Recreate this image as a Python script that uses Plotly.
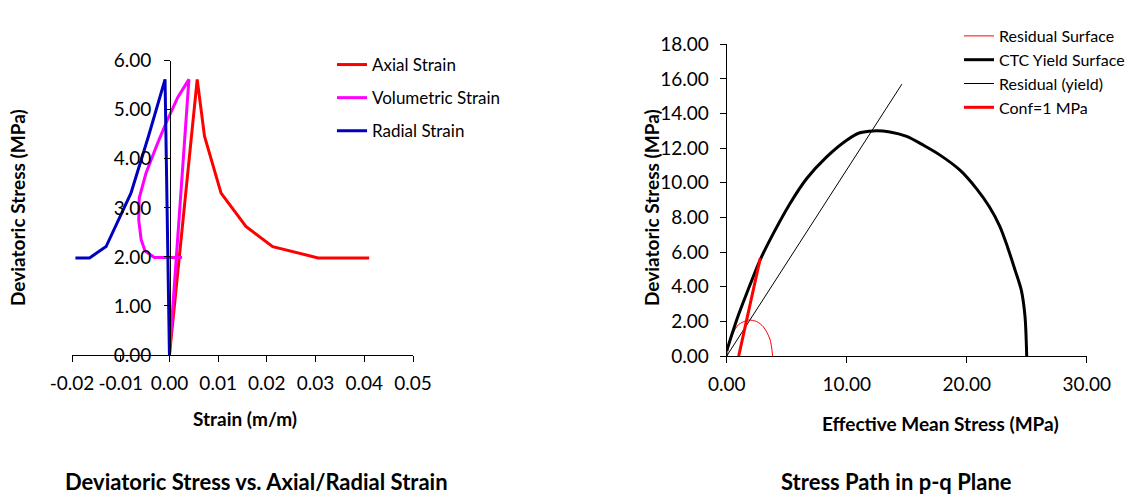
import plotly.graph_objects as go

W, H = 1148, 503
FONT = "Lato"

# ---- left chart: deviatoric stress vs strain --------------------------------
axial_strain = [0.0, 0.0057, 0.0072, 0.0106, 0.0157, 0.0212, 0.0305, 0.041]
axial_stress = [0.0, 5.62, 4.46, 3.30, 2.62, 2.21, 1.98, 1.98]

vol_strain = [0.0, 0.0040, 0.0017, -0.0007, -0.0025, -0.0048, -0.0062, -0.0063,
              -0.0058, -0.0050, -0.0031, 0.0026]
vol_stress = [0.0, 5.62, 5.25, 4.73, 4.30, 3.71, 3.20, 2.75, 2.35, 2.12, 1.99, 1.99]

rad_strain = [0.0, -0.0009, -0.0043, -0.0079, -0.0130, -0.0164, -0.0193]
rad_stress = [0.0, 5.62, 4.46, 3.30, 2.21, 1.98, 1.98]

strain_ticks = [-0.02, -0.01, 0.0, 0.01, 0.02, 0.03, 0.04, 0.05]
strain_tick_labels = ["-0.02", "-0.01", "0.00", "0.01", "0.02", "0.03", "0.04", "0.05"]

# ---- right chart: p-q plane -------------------------------------------------
resid_surf_p = [0.07, 0.1, 0.56, 1.0, 1.8, 2.5, 3.05, 3.6, 3.83]
resid_surf_q = [0.0, 0.35, 1.35, 1.82, 2.07, 1.99, 1.69, 0.98, 0.0]

yield_p = [0.0, 0.83, 1.67, 2.78, 3.89, 5.28, 6.67, 8.33, 10.0, 11.1, 12.2, 13.6,
           15.0, 16.4, 17.78, 19.44, 20.83, 21.9, 22.75, 23.4, 24.03, 24.55,
           24.86, 25.0]
yield_q = [0.3, 2.08, 3.62, 5.54, 7.08, 8.81, 10.25, 11.5, 12.46, 12.89, 13.0, 12.94,
           12.68, 12.17, 11.6, 10.73, 9.65, 8.6, 7.5, 6.3, 4.96, 3.8,
           2.27, 0.0]

resid_line_p = [0.0, 14.6]
resid_line_q = [0.0, 15.7]

conf_p = [1.0, 2.8]
conf_q = [0.0, 5.65]


def px_x(v):
    return v / W


def px_y(v):
    return (H - v) / H


fig = go.Figure()

left = [
    ("Axial Strain", axial_strain, axial_stress, "#FF0000"),
    ("Volumetric Strain", vol_strain, vol_stress, "#FF00FF"),
    ("Radial Strain", rad_strain, rad_stress, "#0000C0"),
]
for i, (name, x, y, c) in enumerate(left):
    fig.add_trace(go.Scatter(x=x, y=y, mode="lines", name=name,
                             line=dict(color=c, width=3),
                             xaxis="x", yaxis="y", legend="legend",
                             legendgroup=f"l{i}"))

right = [
    ("Residual Surface", resid_surf_p, resid_surf_q, "#FF0000", 1, "spline"),
    ("CTC Yield Surface", yield_p, yield_q, "#000000", 3, "spline"),
    ("Residual (yield)", resid_line_p, resid_line_q, "#000000", 1, "linear"),
    ("Conf=1 MPa", conf_p, conf_q, "#FF0000", 3, "linear"),
]
for i, (name, x, y, c, w, shape) in enumerate(right):
    fig.add_trace(go.Scatter(x=x, y=y, mode="lines", name=name,
                             line=dict(color=c, width=w, shape=shape, smoothing=0.8),
                             xaxis="x2", yaxis="y2", legend="legend2"))

tick_font = dict(family=FONT, size=19, color="black")
axis_common = dict(showgrid=False, zeroline=False, showline=True, linecolor="black",
                   linewidth=1, ticks="outside", ticklen=6, tickcolor="black",
                   tickfont=tick_font, automargin=False)

fig.update_layout(
    width=W, height=H,
    margin=dict(l=0, r=0, t=0, b=0),
    paper_bgcolor="white", plot_bgcolor="white",
    font=dict(family=FONT, color="black"),
    xaxis=dict(domain=[px_x(72), px_x(413)], range=[-0.02, 0.05],
               tickvals=strain_ticks, ticktext=strain_tick_labels,
               anchor="y", ticklabelstandoff=5, **axis_common),
    yaxis=dict(domain=[px_y(355), px_y(60.7)], range=[0, 6], dtick=1,
               tickformat=".2f", anchor="free", position=px_x(170),
               ticklabelstandoff=9, **axis_common),
    xaxis2=dict(domain=[px_x(726.7), px_x(1086.7)], range=[0, 30], dtick=10,
                tickformat=".2f", anchor="y2", ticklabelstandoff=5, **axis_common),
    yaxis2=dict(domain=[px_y(356), px_y(44.3)], range=[0, 18], dtick=2,
                tickformat=".2f", anchor="x2", ticklabelstandoff=7, **axis_common),
    legend=dict(x=px_x(332), y=px_y(47), xanchor="left", yanchor="top",
                font=dict(family=FONT, size=17), bgcolor="rgba(0,0,0,0)",
                tracegroupgap=8, traceorder="grouped", itemwidth=30),
    legend2=dict(x=px_x(959), y=px_y(19), xanchor="left", yanchor="top",
                 font=dict(family=FONT, size=16), bgcolor="rgba(0,0,0,0)",
                 itemwidth=30),
    showlegend=True,
)

ann = [
    ("Deviatoric Stress (MPa)", 18, 208, 19, -90),
    ("Strain (m/m)", 245, 418, 19, 0),
    ("Deviatoric Stress (MPa)", 651, 207, 19, -90),
    ("Effective Mean Stress (MPa)", 940, 423, 19, 0),
    ("Deviatoric Stress vs. Axial/Radial Strain", 256, 481, 22, 0),
    ("Stress Path in p-q Plane", 896, 481, 22, 0),
]
for text, x, y, size, ang in ann:
    fig.add_annotation(text=f"<b>{text}</b>", x=px_x(x), y=px_y(y),
                       xref="paper", yref="paper", showarrow=False,
                       xanchor="center", yanchor="middle", textangle=ang,
                       font=dict(family=FONT, size=size, color="black"))

# drop the default 8px page margin so the figure sits at the window corner
fig.write_html("out.html", config={"displayModeBar": False},
               post_script="document.body.style.margin='0px';")
